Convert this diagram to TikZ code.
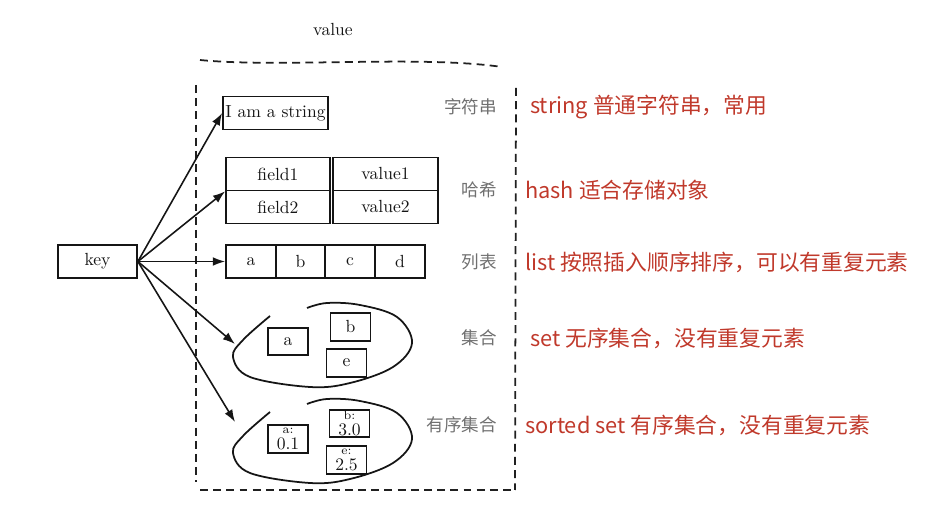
\documentclass[tikz,border=0pt]{standalone}
\usepackage{fontspec}
\newfontfamily\cjk{Noto Sans CJK SC}
\usepackage{tikz}
\usetikzlibrary{arrows.meta,positioning}
\definecolor{ink}{HTML}{151515}
\definecolor{remark}{HTML}{C0392B}
\definecolor{hand}{HTML}{707070}
\definecolor{frame}{HTML}{202020}

\begin{document}
\begin{tikzpicture}[x=0.02cm, y=-0.02cm,
  every node/.style={font=\normalsize, text=ink},
  cell/.style={draw=ink, line width=1pt, inner sep=0pt, minimum height=0.66cm},
  small cell/.style={cell, minimum width=0.8cm, minimum height=0.55cm},
  score/.style={small cell, align=center, inner sep=0.5pt},
  arrow/.style={-{Latex[length=7pt,width=5pt]}, line width=0.9pt, color=ink},
  bag/.style={line width=1pt, color=ink},
  fence/.style={line width=1pt, color=frame, dash pattern=on 4.5pt off 3pt},
  kind/.style={anchor=east, font=\cjk\fontsize{10}{12}\selectfont, text=hand},
  desc/.style={anchor=west, font=\cjk\fontsize{12.4}{14}\selectfont, text=remark}
]
\useasboundingbox (0,0) rectangle (943,509);

% --- value frame
\node (value) at (333,30) {value};
\draw[fence] (200,60) .. controls (280,68) and (420,55) .. (502,67);
\draw[fence] (196,85) -- (196,482);
\draw[fence] (516,88) -- (515,490);
\draw[fence] (200,490) -- (515,490);

% --- key
\node[cell, minimum width=1.58cm] (key) at (97.5,261.5) {key};

% --- string
\node[cell, minimum width=2.1cm] (str) at (275.5,113) {I am a string};

% --- hash
\node[cell, minimum width=2.08cm] (f1) at (278,174) {field1};
\node[cell, minimum width=2.1cm]  (v1) at (385.5,174) {value1};
\node[cell, minimum width=2.08cm] (f2) at (278,207) {field2};
\node[cell, minimum width=2.1cm]  (v2) at (385.5,207) {value2};

% --- list
\node[cell, minimum width=1cm] (la) at (251,261.5) {a};
\node[cell, minimum width=1cm] (lb) at (300.5,261.5) {b};
\node[cell, minimum width=1cm] (lc) at (350,261.5) {c};
\node[cell, minimum width=1cm] (ld) at (400,261.5) {d};

% --- set
\draw[bag] plot[smooth, tension=0.6] coordinates {(270,316) (243,340) (233,357) (250,377)
  (310,387) (350,383) (393,367) (412,343) (397,317) (360,305) (327,303) (307,308)};
\node[small cell] (sa) at (288,341.5) {a};
\node[small cell] (sb) at (350.5,327) {b};
\node[small cell] (sc) at (346.5,363) {e};
\coordinate (setin) at (235,344);

% --- sorted set
\draw[bag] plot[smooth, tension=0.6] coordinates {(270,412) (243,436) (233,453) (250,473)
  (310,483) (350,479) (393,463) (412,439) (397,413) (360,401) (327,399) (307,404)};
\node[score] (za) at (288,439) {{\scriptsize a:}\\[-3pt]0.1};
\node[score] (zb) at (349.5,423.5) {{\scriptsize b:}\\[-3pt]3.0};
\node[score] (zc) at (346.5,460) {{\scriptsize e:}\\[-3pt]2.5};
\coordinate (zsetin) at (235,422);

% --- arrows
\draw[arrow] (key.east) -- (str.west);
\draw[arrow] (key.east) -- (f1.south west);
\draw[arrow] (key.east) -- (la.west);
\draw[arrow] (key.east) -- (setin);
\draw[arrow] (key.east) -- (zsetin);

% --- type names
\node[kind] (tstr)  at (503,107) {字符串};
\node[kind] (thash) at (503,190) {哈希};
\node[kind] (tlist) at (503,262) {列表};
\node[kind] (tset)  at (503,338) {集合};
\node[kind] (tzset) at (503,425) {有序集合};

% --- notes
\node[desc] (dstr)  at (524,107) {string 普通字符串，常用};
\node[desc] (dhash) at (519,190) {hash 适合存储对象};
\node[desc] (dlist) at (519,262) {list 按照插入顺序排序，可以有重复元素};
\node[desc] (dset)  at (524,338) {set 无序集合，没有重复元素};
\node[desc] (dzset) at (519,425) {sorted set 有序集合，没有重复元素};

\end{tikzpicture}
\end{document}
